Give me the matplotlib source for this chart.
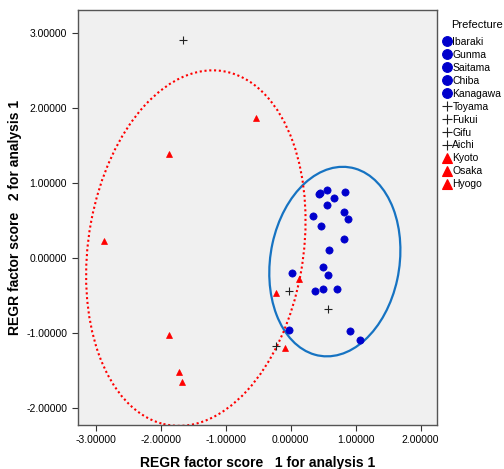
import matplotlib.pyplot as plt
from matplotlib.patches import Ellipse
from matplotlib.lines import Line2D

plt.rcParams['font.family'] = ['Liberation Sans', 'DejaVu Sans']

# factor scores
kanto_x = [0.43, 0.45, 0.56, 0.84, 0.66, 0.56, 0.34, 0.82, 0.88, 0.47, 0.82,
           0.59, 0.02, 0.50, 0.58, 0.38, 0.50, 0.72, -0.02, 0.92, 1.07]
kanto_y = [0.85, 0.86, 0.90, 0.88, 0.80, 0.71, 0.56, 0.61, 0.52, 0.43, 0.25,
           0.11, -0.20, -0.12, -0.23, -0.44, -0.41, -0.41, -0.96, -0.97, -1.09]
chubu_x = [-1.66, -0.03, 0.57, -0.22]
chubu_y = [2.91, -0.44, -0.68, -1.18]
kansai_x = [-0.54, -1.88, -2.88, -1.88, -1.72, -1.68, -0.22, 0.13, -0.08]
kansai_y = [1.86, 1.38, 0.23, -1.03, -1.52, -1.66, -0.47, -0.28, -1.20]

prefectures = ["Ibaraki", "Gunma", "Saitama", "Chiba", "Kanagawa",
               "Toyama", "Fukui", "Gifu", "Aichi",
               "Kyoto", "Osaka", "Hyogo"]
groups = ["kanto"] * 5 + ["chubu"] * 4 + ["kansai"] * 3

styles = {
    "kanto": dict(marker="o", color="#0000CC", ms=5.2),
    "chubu": dict(marker="+", color="#222222", ms=6),
    "kansai": dict(marker="^", color="#FF0000", ms=5),
}

fig = plt.figure(figsize=(5.04, 4.69), dpi=100)
ax = fig.add_axes([0.154, 0.094, 0.714, 0.885])
ax.set_facecolor("#F0F0F0")

for xs, ys, g in [(kanto_x, kanto_y, "kanto"), (chubu_x, chubu_y, "chubu"),
                  (kansai_x, kansai_y, "kansai")]:
    st = styles[g]
    ax.plot(xs, ys, linestyle="none", marker=st["marker"], color=st["color"],
            ms=st["ms"], mew=0.8 if g == "chubu" else 0.5, zorder=3)

# group ellipses
ax.add_patch(Ellipse((0.68, -0.05), 1.98, 2.56, angle=-14, fill=False,
                     edgecolor="#1673C2", lw=1.6, zorder=2))
ax.add_patch(Ellipse((-1.46, 0.13), 3.3, 4.8, angle=-12, fill=False,
                     edgecolor="#FF0000", lw=1.5, linestyle=(0, (1, 1.3)), zorder=2))

ax.set_xlim(-3.28, 2.26)
ax.set_ylim(-2.23, 3.31)
ax.set_xticks([-3, -2, -1, 0, 1, 2])
ax.set_yticks([-2, -1, 0, 1, 2, 3])
ax.xaxis.set_major_formatter(lambda v, p: f"{v:.5f}")
ax.yaxis.set_major_formatter(lambda v, p: f"{v:.5f}")
ax.tick_params(labelsize=7.5, length=4, width=0.8, color="#333333")
for s in ax.spines.values():
    s.set_color("#555555")
    s.set_linewidth(1.0)

ax.set_xlabel("REGR factor score   1 for analysis 1", fontsize=10, fontweight="bold", va="center")
ax.set_ylabel("REGR factor score   2 for analysis 1", fontsize=10, fontweight="bold", va="center")
ax.xaxis.set_label_coords(0.5, -0.091)
ax.yaxis.set_label_coords(-0.174, 0.5)

handles = []
for name, g in zip(prefectures, groups):
    st = styles[g]
    ms = {"kanto": 7, "chubu": 7, "kansai": 6.5}[g]
    handles.append(Line2D([], [], linestyle="none", marker=st["marker"],
                          color=st["color"], ms=ms, mew=0.8, label=name))
fig.text(477 / 504, 1 - 25 / 469, "Prefecture", fontsize=8, ha="center", va="center")
leg = fig.legend(handles=handles, loc="upper left",
                 bbox_to_anchor=(441 / 504, 1 - 35 / 469), frameon=False, fontsize=7.5,
                 handlelength=0.7, handletextpad=0.2,
                 labelspacing=0.28, borderaxespad=0, borderpad=0.2)

fig.savefig("out.png", dpi=100)
